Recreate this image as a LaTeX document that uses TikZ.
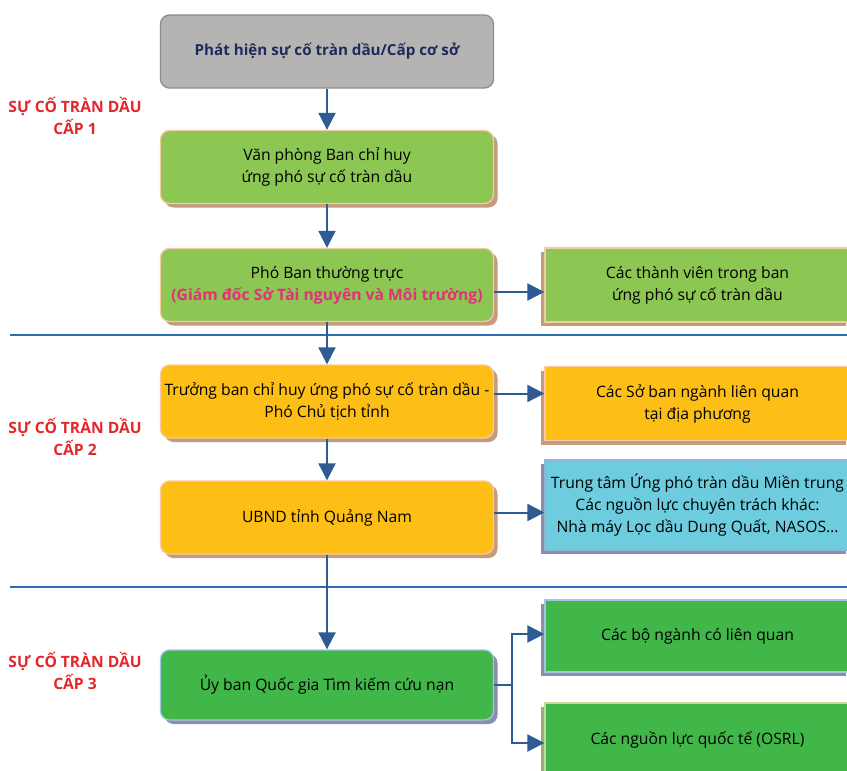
\documentclass[tikz,border=0pt]{standalone}
\usepackage{fontspec}
\setmainfont{Open Sans}
\usepackage{tikz}
\usetikzlibrary{arrows.meta}
\usetikzlibrary{positioning}
\usetikzlibrary{shadows}
\definecolor{greyfill}{HTML}{B6B4B3}
\definecolor{greyline}{HTML}{8E8D8C}
\definecolor{navytext}{HTML}{1C2B5C}
\definecolor{lightgreen}{HTML}{8CC653}
\definecolor{orangefill}{HTML}{FDBE15}
\definecolor{peachline}{HTML}{F8C9A2}
\definecolor{tanshadow}{HTML}{C49B7C}
\definecolor{cyanfill}{HTML}{6DCDDE}
\definecolor{cyanline}{HTML}{93B4D2}
\definecolor{darkgreen}{HTML}{41B649}
\definecolor{skyline}{HTML}{A3C6E6}
\definecolor{slateshadow}{HTML}{8B8EAC}
\definecolor{oliveline}{HTML}{C6D89B}
\definecolor{oliveshadow}{HTML}{A6A67C}
\definecolor{sepblue}{HTML}{2A6DB5}
\definecolor{arrowblue}{HTML}{2F5B93}
\definecolor{levelred}{HTML}{E5262A}
\definecolor{rolemagenta}{HTML}{E3307A}
\tikzset{boxtext/.style = {align=center, font=\fontsize{15.7}{22}\selectfont},
         leftbox/.style = {boxtext, rounded corners=9pt, minimum width=333pt,
                           minimum height=73pt, line width=1.3pt},
         rightbox/.style = {boxtext, minimum width=305pt, minimum height=74pt,
                            line width=1.3pt},
         tanshade/.style = {general shadow={fill=tanshadow, shadow xshift=#1,
                            shadow yshift=-4pt}},
         slateshade/.style = {general shadow={fill=slateshadow, shadow xshift=#1,
                              shadow yshift=-4pt}},
         flow/.style = {draw=arrowblue, line width=2pt,
                        -{Triangle[length=17pt, width=17pt]}},
         level/.style = {align=center, text=levelred,
                         font=\fontsize{15.6}{22}\bfseries\selectfont}}

\begin{document}
\begin{tikzpicture}[x=1pt, y=-1pt]
      \clip (0, 0) rectangle (847, 771);
      \fill [white] (0, 0) rectangle (847, 771);
      % level 1
      \node [leftbox, fill=greyfill, draw=greyline, text=navytext,
             font=\fontsize{15.2}{22}\bfseries\selectfont] (detect) at (327, 51.5)
            {Phát hiện sự cố tràn dầu/Cấp cơ sở};
      \node [leftbox, fill=lightgreen, draw=peachline, tanshade=4pt] (office) at (327, 167)
            {Văn phòng Ban chỉ huy\\ứng phó sự cố tràn dầu};
      \node [leftbox, fill=lightgreen, draw=peachline, tanshade=4pt] (deputy) at (327, 285)
            {Phó Ban thường trực\\
             \textcolor{rolemagenta}{\bfseries (Giám đốc Sở Tài nguyên và Môi trường)}};
      \node [rightbox, fill=lightgreen, draw=peachline, tanshade=-4pt] (members) at (697.5, 285)
            {Các thành viên trong ban\\ứng phó sự cố tràn dầu};
      % level 2
      \node [leftbox, fill=orangefill, draw=peachline, tanshade=4pt] (chief) at (327, 401.5)
            {Trưởng ban chỉ huy ứng phó sự cố tràn dầu -\\Phó Chủ tịch tỉnh};
      \node [rightbox, fill=orangefill, draw=peachline, tanshade=-4pt] (depts) at (697.5, 403.5)
            {Các Sở ban ngành liên quan\\tại địa phương};
      \node [leftbox, fill=orangefill, draw=peachline, tanshade=4pt] (ubnd) at (327, 517.5)
            {UBND tỉnh Quảng Nam};
      \node [rightbox, fill=cyanfill, draw=cyanline, slateshade=-4pt,
             minimum height=90pt] (centre) at (697.5, 505)
            {Trung tâm Ứng phó tràn dầu Miền trung\\
             Các nguồn lực chuyên trách khác:\\
             Nhà máy Lọc dầu Dung Quất, NASOS…};
      % level 3
      \node [leftbox, fill=darkgreen, draw=skyline, slateshade=4pt,
             minimum height=70pt] (search) at (327, 685)
            {Ủy ban Quốc gia Tìm kiếm cứu nạn};
      \node [rightbox, fill=darkgreen, draw=skyline, slateshade=-4pt,
             minimum height=72pt] (ministry) at (697.5, 636)
            {Các bộ ngành có liên quan};
      \node [rightbox, fill=darkgreen, draw=oliveline,
             general shadow={fill=oliveshadow, shadow xshift=-4pt, shadow yshift=-4pt}]
            (intl) at (697.5, 740) {Các nguồn lực quốc tế (OSRL)};
      % level labels
      \node [level] (lvla) at (75, 116) {SỰ CỐ TRÀN DẦU\\CẤP 1};
      \node [level] (lvlb) at (75, 437) {SỰ CỐ TRÀN DẦU\\CẤP 2};
      \node [level] (lvlc) at (75, 671) {SỰ CỐ TRÀN DẦU\\CẤP 3};
      % separators
      \draw [sepblue, line width=1.5pt] (10, 335) -- (847, 335);
      \draw [sepblue, line width=1.5pt] (10, 587) -- (847, 587);
      % connectors
      \draw [flow] (detect) -- (office);
      \draw [flow] (office) -- (deputy);
      \draw [flow] (deputy) -- (chief);
      \draw [flow] (chief) -- (ubnd);
      \draw [flow] (ubnd) -- (search);
      \draw [flow] ([yshift=-7pt]deputy.east) -- ([yshift=-7pt]deputy.east -| members.west);
      \draw [flow] ([yshift=8pt]chief.east) -- ([yshift=8pt]chief.east -| depts.west);
      \draw [flow] ([yshift=5pt]ubnd.east) -- ([yshift=5pt]ubnd.east -| centre.west);
      \coordinate (fork) at ([xshift=18pt]search.east);
      \draw [draw=arrowblue, line width=2pt] (search.east) -- (fork);
      \draw [flow] (fork) |- ([yshift=2pt]ministry.west);
      \draw [flow] (fork) |- ([yshift=-3pt]intl.west);
\end{tikzpicture}
\end{document}
